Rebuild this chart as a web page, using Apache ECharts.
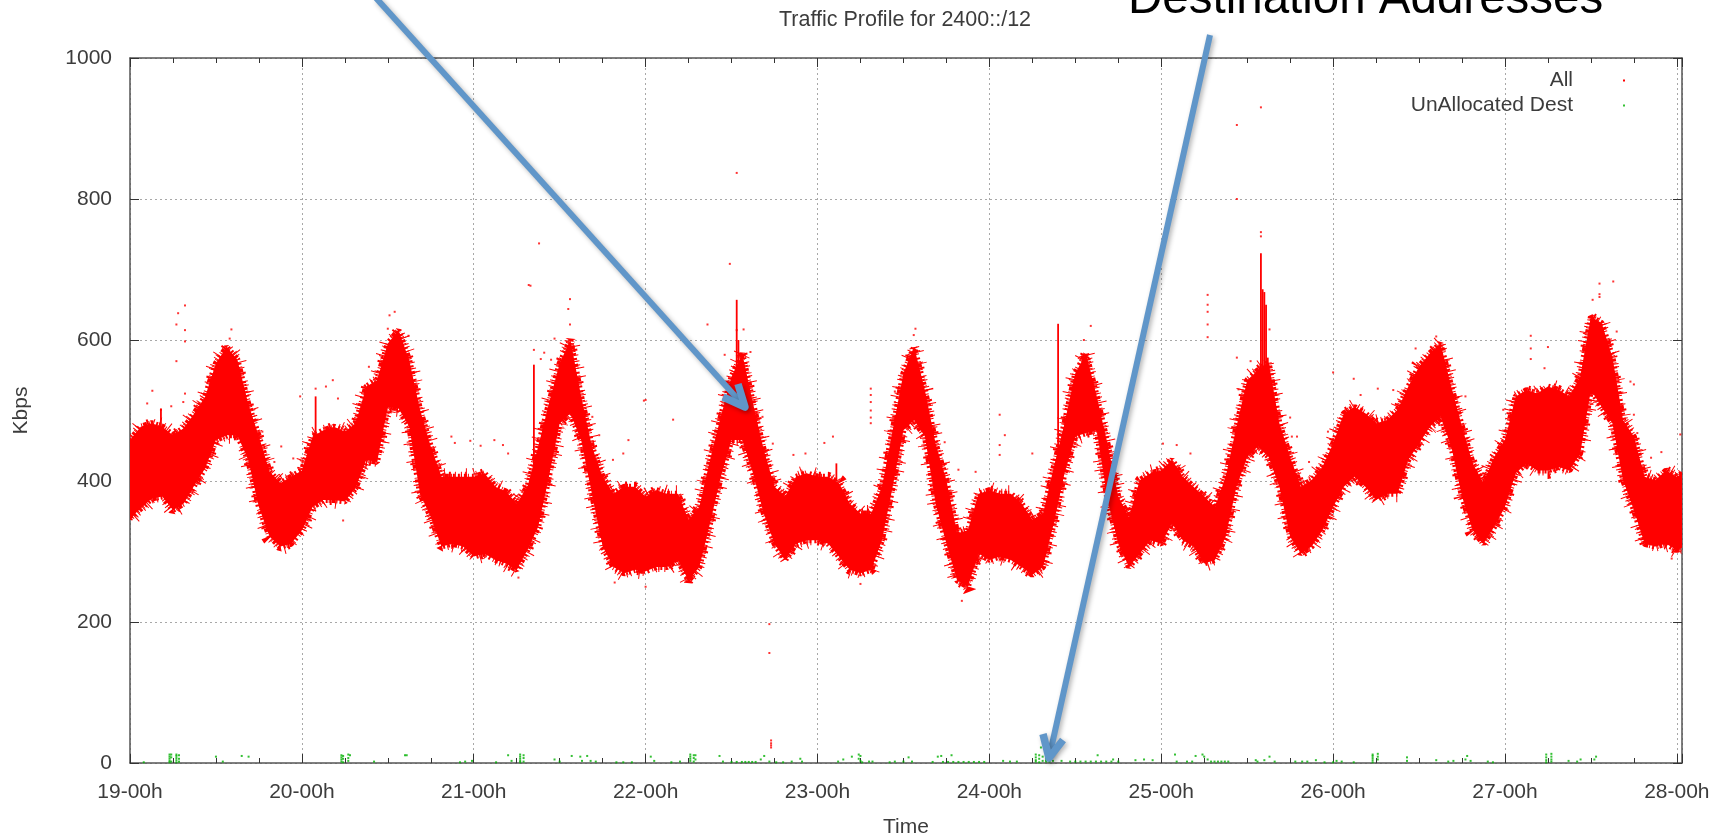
<!DOCTYPE html>
<html>
<head>
<meta charset="utf-8">
<title>Traffic Profile</title>
<script src="https://cdn.jsdelivr.net/npm/echarts@6/dist/echarts.min.js"></script>
<style>
  html, body { margin: 0; padding: 0; background: #fff; }
  #chart { width: 1725px; height: 836px; }
</style>
</head>
<body>
<div id="chart"></div>
<script>
// envelope of the red "All" cloud (day of month, kbps)
const bandTime = [
  19, 19.0625, 19.125, 19.1875, 19.25, 19.3125, 19.375, 19.4375, 19.5, 19.5625, 19.625, 19.6875, 19.75, 19.8125, 19.875, 19.9375,
  20, 20.0625, 20.125, 20.1875, 20.25, 20.3125, 20.375, 20.4375, 20.5, 20.5625, 20.625, 20.6875, 20.75, 20.8125, 20.875, 20.9375,
  21, 21.0625, 21.125, 21.1875, 21.25, 21.3125, 21.375, 21.4375, 21.5, 21.5625, 21.625, 21.6875, 21.75, 21.8125, 21.875, 21.9375,
  22, 22.0625, 22.125, 22.1875, 22.25, 22.3125, 22.375, 22.4375, 22.5, 22.5625, 22.625, 22.6875, 22.75, 22.8125, 22.875, 22.9375,
  23, 23.0625, 23.125, 23.1875, 23.25, 23.3125, 23.375, 23.4375, 23.5, 23.5625, 23.625, 23.6875, 23.75, 23.8125, 23.875, 23.9375,
  24, 24.0625, 24.125, 24.1875, 24.25, 24.3125, 24.375, 24.4375, 24.5, 24.5625, 24.625, 24.6875, 24.75, 24.8125, 24.875, 24.9375,
  25, 25.0625, 25.125, 25.1875, 25.25, 25.3125, 25.375, 25.4375, 25.5, 25.5625, 25.625, 25.6875, 25.75, 25.8125, 25.875, 25.9375,
  26, 26.0625, 26.125, 26.1875, 26.25, 26.3125, 26.375, 26.4375, 26.5, 26.5625, 26.625, 26.6875, 26.75, 26.8125, 26.875, 26.9375,
  27, 27.0625, 27.125, 27.1875, 27.25, 27.3125, 27.375, 27.4375, 27.5, 27.5625, 27.625, 27.6875, 27.75, 27.8125, 27.875, 27.9375,
  28, 28.03
];
const bandUpper = [
  458, 477, 482, 477, 465, 475, 496, 520, 567, 590, 572, 510, 463, 413, 397, 406,
  415, 463, 472, 477, 470, 482, 534, 543, 595, 614, 571, 501, 449, 406, 406, 406,
  406, 411, 392, 385, 368, 392, 449, 510, 567, 600, 520, 449, 406, 382, 392, 392,
  378, 387, 382, 382, 345, 363, 430, 491, 548, 581, 510, 444, 392, 378, 406, 411,
  406, 406, 397, 368, 354, 354, 392, 472, 553, 590, 529, 453, 401, 326, 330, 382,
  387, 382, 382, 368, 345, 354, 420, 482, 553, 581, 520, 453, 378, 349, 401, 411,
  415, 430, 406, 392, 378, 363, 406, 477, 543, 557, 568, 482, 434, 392, 401, 420,
  453, 496, 505, 496, 482, 486, 501, 534, 562, 581, 595, 534, 477, 425, 397, 434,
  458, 520, 529, 524, 534, 529, 520, 548, 633, 624, 576, 486, 463, 406, 401, 415,
  406, 410
];
const bandLower = [
  347, 361, 375, 378, 359, 368, 394, 418, 458, 465, 465, 430, 363, 321, 307, 311,
  330, 363, 373, 373, 371, 390, 430, 427, 505, 503, 477, 382, 349, 307, 311, 307,
  293, 297, 288, 283, 274, 302, 335, 406, 482, 496, 458, 382, 307, 278, 269, 274,
  272, 278, 278, 288, 259, 278, 340, 406, 458, 458, 411, 354, 311, 288, 311, 316,
  316, 311, 293, 274, 269, 274, 316, 392, 472, 486, 463, 368, 311, 259, 250, 297,
  288, 293, 288, 278, 267, 278, 340, 411, 463, 468, 472, 373, 311, 278, 297, 316,
  311, 340, 316, 307, 283, 288, 321, 392, 434, 449, 434, 392, 321, 297, 307, 330,
  363, 392, 406, 392, 373, 382, 382, 430, 453, 477, 491, 449, 378, 330, 311, 335,
  363, 411, 425, 415, 415, 420, 415, 439, 529, 505, 482, 401, 359, 311, 307, 311,
  302, 305
];

// narrow vertical streaks that stick out of the cloud
const spikeTime = [19.18, 20.08, 21.35, 22.53, 22.54, 23.11, 24.4, 25.58, 25.59, 25.6, 25.61, 25.62];
const spikeTop  = [503, 520, 565, 657, 600, 425, 623, 723, 672, 668, 650, 575];
const spikeBase = [470, 430, 400, 540, 540, 400, 420, 500, 480, 480, 480, 480];

// stray red points
const strayTime = [
  19.32, 19.28, 19.27, 19.32, 19.32, 19.27, 19.13, 19.10, 19.32, 19.31, 19.24, 19.18, 19.59, 19.58, 19.77, 19.88, 19.84, 19.95, 19.99,
  20.08, 20.14, 20.18, 20.21, 20.39, 20.54, 20.51, 20.50, 20.62, 20.24, 21.33, 21.56, 21.55, 21.56, 21.35, 21.41, 21.39, 21.45, 21.47,
  20.87, 20.89, 20.98, 21.12, 21.17, 21.04, 21.20, 21.90, 21.99, 21.87, 21.69, 21.73, 21.81, 21.26, 21.82, 22.0,
  22.36, 22.46, 22.53, 22.57, 22.61, 22.0, 22.16, 22.68, 22.74, 22.93, 22.86, 23.04, 23.09, 23.25,
  23.31, 23.31, 23.31, 23.31, 23.31, 23.31, 23.57, 23.56, 23.45, 23.45, 24.06, 24.09, 24.06, 24.06, 24.25, 23.82, 23.92, 23.74, 23.69,
  24.59, 24.55, 23.84, 25.01, 25.09, 25.17,
  25.27, 25.27, 25.27, 25.27, 25.27, 25.44, 25.52, 25.63, 25.45, 25.75, 25.76, 25.79, 25.86, 25.97, 26.0, 26.12, 26.26, 26.16, 26.35,
  26.48, 26.77, 26.6, 27.15, 27.15, 27.15, 27.25, 27.23, 27.55, 27.55, 27.55, 27.63, 27.51, 27.65, 27.73, 27.75, 27.75, 27.77, 26.99,
  28.02, 27.85, 27.91, 27.97,
  25.44, 25.58, 25.58, 25.58, 25.44, 22.53, 22.49, 21.38, 21.32,
  22.72, 22.72, 22.73, 22.73, 22.73, 22.73
];
const strayValue = [
  649, 638, 622, 614, 598, 570, 528, 510, 524, 512, 506, 501, 615, 602, 470, 449, 427, 432, 520,
  531, 534, 543, 517, 562, 640, 635, 616, 606, 344, 677, 658, 644, 622, 586, 582, 573, 572, 602,
  463, 454, 457, 458, 451, 450, 439, 458, 514, 439, 491, 465, 430, 263, 256, 250,
  622, 579, 614, 615, 583, 515, 487, 491, 453, 439, 437, 454, 463, 254,
  531, 522, 512, 500, 490, 482, 616, 607, 527, 512, 494, 465, 451, 437, 439, 416, 413, 455, 455,
  620, 600, 230, 453, 451, 439,
  664, 650, 640, 622, 604, 575, 570, 615, 530, 490, 463, 463, 427, 470, 554, 545, 531, 522, 529,
  588, 520, 605, 606, 588, 573, 590, 560, 680, 665, 661, 683, 657, 612, 541, 537, 494, 468, 501,
  466, 433, 441, 290,
  905, 930, 753, 747, 800, 837, 708, 737, 678,
  197, 156, 32, 28, 25, 22
];

// green "UnAllocated Dest" points, all close to zero
const greenTime = [
  19.08, 19.23, 19.23, 19.23, 19.23, 19.23, 19.24, 19.24, 19.24, 19.27, 19.27, 19.27, 19.27, 19.27, 19.285, 19.285, 19.285, 19.5, 19.54, 19.65, 19.69,
  20.23, 20.23, 20.23, 20.23, 20.24, 20.24, 20.24, 20.27, 20.27, 20.27, 20.28, 20.42, 20.6, 20.61, 20.92, 20.95, 20.99,
  21.13, 21.2, 21.22, 21.27, 21.27, 21.27, 21.27, 21.27, 21.29, 21.29, 21.29, 21.47, 21.5, 21.57, 21.62, 21.63, 21.66, 21.68, 21.71, 21.83, 21.87, 21.92,
  22.03, 22.05, 22.15, 22.2, 22.26, 22.26, 22.26, 22.26, 22.28, 22.28, 22.28, 22.29, 22.29, 22.43, 22.45, 22.5, 22.53, 22.56, 22.58, 22.6, 22.62, 22.64, 22.67, 22.69, 22.72, 22.76, 22.8, 22.85, 22.9, 22.91,
  23.12, 23.15, 23.2, 23.24, 23.24, 23.25, 23.25, 23.26, 23.3, 23.32, 23.42, 23.45, 23.5, 23.53, 23.55, 23.67, 23.7, 23.72, 23.73, 23.76, 23.78, 23.79, 23.82, 23.85, 23.88, 23.91, 23.94, 23.97,
  24.08, 24.12, 24.16, 24.27, 24.27, 24.27, 24.27, 24.29, 24.29, 24.29, 24.3, 24.31, 24.31, 24.33, 24.33, 24.33, 24.35, 24.35, 24.37, 24.42, 24.47,
  24.5, 24.53, 24.56, 24.59, 24.62, 24.63, 24.65, 24.68, 24.71, 24.72, 24.75, 24.85, 24.9, 24.95,
  25.08, 25.09, 25.15, 25.18, 25.2, 25.24, 25.25, 25.27, 25.29, 25.31, 25.33, 25.35, 25.37, 25.39, 25.55, 25.56, 25.6, 25.63, 25.66, 25.78, 25.82, 25.85, 25.9, 25.95,
  26.0, 26.02, 26.05, 26.12, 26.23, 26.23, 26.23, 26.23, 26.23, 26.26, 26.26, 26.26, 26.43, 26.43, 26.6, 26.67, 26.7, 26.78, 26.77, 26.8, 26.93, 26.9,
  27.24, 27.24, 27.24, 27.24, 27.27, 27.27, 27.27, 27.27, 27.37, 27.42, 27.44, 27.53, 27.52
];
const greenValue = [
  1, 12, 9, 6, 3, 1, 12, 8, 2, 12, 10, 7, 4, 1, 11, 6, 2, 9, 2, 10, 9,
  11, 8, 5, 2, 10, 6, 1, 12, 7, 3, 11, 2, 11, 11, 1, 2, 3,
  1, 11, 3, 12, 9, 6, 3, 1, 11, 7, 2, 5, 2, 10, 9, 3, 10, 3, 2, 1, 1, 1,
  9, 3, 1, 2, 12, 9, 6, 3, 11, 7, 2, 11, 5, 10, 2, 1.5, 1.5, 1.5, 1.5, 1.5, 1.5, 1.5, 5, 10, 2, 1, 1, 2, 6, 2,
  2, 5, 9, 12, 6, 10, 3, 1, 2, 2, 1, 2, 2, 8, 2, 1.5, 9, 10, 1.5, 1.5, 11, 1.5, 1.5, 1.5, 1.5, 1.5, 1.5, 1.5,
  3, 2, 2, 12, 8, 4, 2, 11, 6, 1, 22, 9, 3, 7, 4, 2, 6, 2, 3, 3, 2,
  2, 2, 2, 2, 2, 11, 2, 2, 2, 5, 2, 4, 5, 4,
  12, 2, 2, 2, 10, 12, 9, 5, 2, 2, 2, 2, 2, 2, 4, 2, 4, 9, 2, 2, 2, 2, 4, 1,
  1, 3, 2, 1, 12, 10, 7, 4, 1, 13, 9, 5, 3, 8, 4, 2, 3, 10, 5, 3, 1, 2,
  12, 8, 4, 1, 13, 9, 5, 2, 3, 2, 5, 9, 5
];

const yTicks = [0, 200, 400, 600, 800, 1000];
const dayLabels = ['19-00h', '20-00h', '21-00h', '22-00h', '23-00h', '24-00h', '25-00h', '26-00h', '27-00h', '28-00h'];
const firstDay = 19;

const FONT = '"Liberation Sans", Arial, sans-serif';
const TEXT = '#3c3c3c';
const AXIS = '#555';
const GRID = '#a8a8a8';
const ARROW = '#6096c9';

let myChart = echarts.init(document.getElementById('chart'), null, { renderer: 'canvas' });

function pairs (xs, ys) {
  return xs.map((x, i) => [x, ys[i]]);
}

const arrowShadow = { shadowColor: 'rgba(0,0,0,0.3)', shadowBlur: 5, shadowOffsetX: 2, shadowOffsetY: 2 };

function arrowLine (points, width) {
  return {
    type: 'polyline',
    z: 100,
    shape: { points: points },
    style: Object.assign({ stroke: ARROW, lineWidth: width, fill: null, lineJoin: 'round', lineCap: 'butt' }, arrowShadow)
  };
}

// the cloud edge is not clean: uneven dashes on the outline give it a rough fringe
function fringe (pts, width, dash) {
  return {
    type: 'polygon',
    shape: { points: pts },
    style: { fill: null, stroke: '#ff0000', lineWidth: width, lineDash: dash, lineJoin: 'bevel' }
  };
}

myChart.setOption({
  animation: false,
  backgroundColor: '#fff',
  title: {
    text: 'Traffic Profile for 2400::/12',
    left: 900,
    top: 4,
    textAlign: 'center',
    textStyle: { color: TEXT, fontFamily: FONT, fontSize: 21.5, fontWeight: 'normal' }
  },
  legend: {
    right: 95,
    top: 65,
    orient: 'vertical',
    align: 'right',
    itemWidth: 2,
    itemHeight: 2,
    itemGap: 4,
    icon: 'rect',
    data: ['All', 'UnAllocated Dest'],
    textStyle: { color: TEXT, fontFamily: FONT, fontSize: 21, padding: [0, 45, 0, 0] }
  },
  grid: { left: 130, top: 58, right: 43, bottom: 73, outerBoundsMode: 'none' },
  xAxis: [{
    type: 'value',
    min: firstDay,
    max: 28.03,
    interval: 1,
    name: 'Time',
    nameLocation: 'middle',
    nameGap: 54,
    nameTextStyle: { color: TEXT, fontFamily: FONT, fontSize: 21 },
    axisLine: { onZero: false, lineStyle: { color: AXIS, width: 1.5 } },
    axisTick: { inside: true, length: 9, lineStyle: { color: '#333' } },
    minorTick: { show: true, splitNumber: 4, length: 5, lineStyle: { color: '#333' } },
    axisLabel: {
      color: TEXT,
      fontFamily: FONT,
      fontSize: 21,
      margin: 19,
      showMinLabel: true,
      showMaxLabel: false,
      formatter: function (v) {
        return dayLabels[v - firstDay] || '';
      }
    },
    splitLine: { show: true, lineStyle: { color: GRID, type: [2, 3], width: 1 } }
  }, {
    type: 'value',
    position: 'top',
    min: firstDay,
    max: 28.03,
    interval: 1,
    axisLine: { onZero: false, lineStyle: { color: AXIS, width: 1.5 } },
    axisTick: { inside: true, length: 9, lineStyle: { color: '#333' } },
    minorTick: { show: true, splitNumber: 4, length: 5, lineStyle: { color: '#333' } },
    axisLabel: { show: false },
    splitLine: { show: false }
  }],
  yAxis: [{
    type: 'value',
    min: yTicks[0],
    max: yTicks[yTicks.length - 1],
    interval: 200,
    name: 'Kbps',
    nameLocation: 'middle',
    nameGap: 98,
    nameTextStyle: { color: TEXT, fontFamily: FONT, fontSize: 21 },
    axisLine: { show: true, onZero: false, lineStyle: { color: AXIS, width: 1.5 } },
    axisTick: { inside: true, length: 9, lineStyle: { color: '#333' } },
    axisLabel: {
      color: TEXT,
      fontFamily: FONT,
      fontSize: 21,
      margin: 18,
      formatter: function (v) {
        return String(v);
      }
    },
    splitLine: { show: true, lineStyle: { color: GRID, type: [2, 3], width: 1 } }
  }, {
    type: 'value',
    position: 'right',
    min: yTicks[0],
    max: yTicks[yTicks.length - 1],
    interval: 200,
    axisLine: { show: true, onZero: false, lineStyle: { color: AXIS, width: 1.5 } },
    axisTick: { inside: true, length: 9, lineStyle: { color: '#333' } },
    axisLabel: { show: false },
    splitLine: { show: false }
  }],
  series: [{
    name: 'All',
    type: 'custom',
    clip: true,
    z: 3,
    itemStyle: { color: '#ff0000' },
    data: [0],
    renderItem: function (params, api) {
      let pts = [];
      bandTime.forEach((t, i) => pts.push(api.coord([t, bandUpper[i]])));
      for (let i = bandTime.length - 1; i >= 0; i--) {
        pts.push(api.coord([bandTime[i], bandLower[i]]));
      }
      return {
        type: 'group',
        children: [
          { type: 'polygon', shape: { points: pts }, style: { fill: '#ff0000' } },
          fringe(pts, 6, [2, 1, 1, 2, 3, 1, 1, 3, 2, 2, 1, 1, 4, 2, 1, 1, 2, 3]),
          fringe(pts, 10, [1, 3, 1, 6, 1, 2, 1, 9, 2, 4, 1, 5, 1, 3, 1, 11, 1, 4, 2, 7]),
          fringe(pts, 17, [1, 13, 1, 21, 1, 8, 1, 30, 1, 17, 1, 11, 1, 26])
        ]
      };
    }
  }, {
    name: 'All',
    type: 'custom',
    clip: true,
    z: 3,
    data: spikeTime.map((t, i) => [t, spikeTop[i], spikeBase[i]]),
    renderItem: function (params, api) {
      let a = api.coord([api.value(0), api.value(1)]);
      let b = api.coord([api.value(0), api.value(2)]);
      return {
        type: 'line',
        shape: { x1: a[0], y1: a[1], x2: b[0], y2: b[1] },
        style: { stroke: '#ff0000', lineWidth: 1.8 }
      };
    }
  }, {
    name: 'All',
    type: 'scatter',
    symbol: 'rect',
    symbolSize: 2,
    z: 3,
    itemStyle: { color: '#ff0000' },
    data: pairs(strayTime, strayValue)
  }, {
    name: 'UnAllocated Dest',
    type: 'scatter',
    symbol: 'rect',
    symbolSize: 2,
    z: 4,
    itemStyle: { color: '#00b000' },
    data: pairs(greenTime, greenValue)
  }],
  graphic: [
    {
      type: 'text',
      z: 100,
      x: 1128,
      y: 24,
      style: { text: 'Destination Addresses', fill: '#000', fontFamily: FONT, fontSize: 47.5, verticalAlign: 'bottom' }
    },
    arrowLine([[376, -2], [745, 407]], 6),
    arrowLine([[723, 397], [745, 407], [738, 384]], 7.5),
    arrowLine([[1210, 35], [1049, 758]], 6),
    arrowLine([[1043, 734], [1049, 758], [1063, 740]], 7.5)
  ]
});

window.addEventListener('resize', function () {
  myChart.resize();
});
</script>
</body>
</html>
